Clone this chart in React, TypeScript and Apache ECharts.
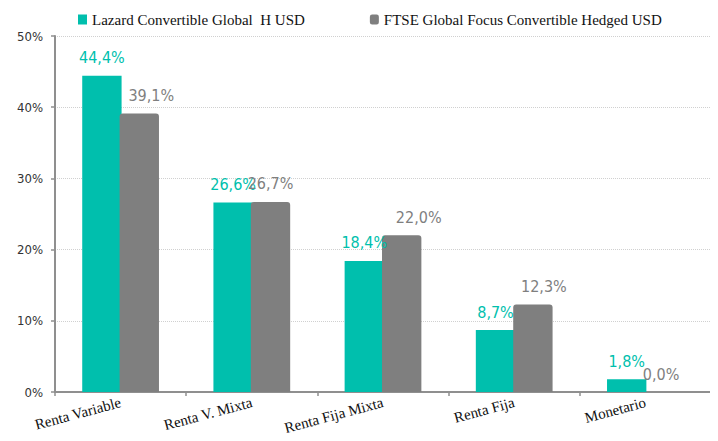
import React, { useEffect, useRef } from "react";
import * as echarts from "echarts";

const categories = ["Renta Variable", "Renta V. Mixta", "Renta Fija Mixta", "Renta Fija", "Monetario"];
const seriesNames = ["Lazard Convertible Global  H USD", "FTSE Global Focus Convertible Hedged USD"];
const lazardValues = [44.4, 26.6, 18.4, 8.7, 1.8];
const ftseValues = [39.1, 26.7, 22.0, 12.3, 0.0];
const yTicks = [0, 10, 20, 30, 40, 50];

const TEAL = "#00BFAD";
const GRAY = "#7F7F7F";
const grayLabelShift = [12, 0, 17, 11, -3];

const fmt = (v: number) => v.toFixed(1).replace(".", ",") + "%";

export default function App() {
  const ref = useRef<HTMLDivElement>(null);
  useEffect(() => {
    if (!ref.current) return;
    const chart = echarts.init(ref.current, null, { renderer: "svg" });
    const labelFont = "'DejaVu Sans Condensed', 'Liberation Sans', sans-serif";
    chart.setOption({
      animation: false,
      backgroundColor: "#ffffff",
      legend: {
        left: 73,
        top: 7,
        itemWidth: 9,
        itemHeight: 10,
        itemGap: 65,
        textStyle: { fontFamily: "'Liberation Serif', serif", fontSize: 15, color: "#111111" },
        data: [
          { name: seriesNames[0], icon: "rect" },
          { name: seriesNames[1], icon: "roundRect" },
        ],
      },
      grid: { left: 55, right: 7, top: 36, bottom: 49 },
      xAxis: {
        type: "category",
        data: categories,
        axisLine: { lineStyle: { color: "#8f8f8f", width: 2 } },
        axisTick: { show: true, length: 4, lineStyle: { color: "#8f8f8f", width: 1.5 } },
        axisLabel: {
          interval: 0,
          rotate: 15,
          margin: 10,
          fontFamily: "'Liberation Serif', serif",
          fontSize: 15,
          color: "#111111",
        },
      },
      yAxis: {
        type: "value",
        min: yTicks[0],
        max: yTicks[yTicks.length - 1],
        interval: 10,
        axisLine: { show: true, lineStyle: { color: "#8f8f8f", width: 2 } },
        axisTick: { show: true, length: 4, lineStyle: { color: "#8f8f8f", width: 1.5 } },
        axisLabel: {
          margin: 12,
          formatter: (v: number) => v + "%",
          fontFamily: labelFont,
          fontSize: 13,
          color: "#333333",
        },
        splitLine: { show: true, lineStyle: { color: "#d0d0d0", type: "dotted", width: 1 } },
      },
      series: [
        {
          name: seriesNames[0],
          type: "bar",
          data: lazardValues,
          barWidth: "30%",
          barGap: "-5%",
          itemStyle: { color: TEAL },
          label: {
            show: true,
            position: "top",
            distance: 10,
            formatter: (p: any) => fmt(p.value),
            fontFamily: labelFont,
            fontSize: 16,
            color: TEAL,
          },
        },
        {
          name: seriesNames[1],
          type: "bar",
          data: ftseValues.map((v, i) => ({
            value: v,
            label: { offset: [grayLabelShift[i], 0] },
          })),
          barWidth: "30%",
          barGap: "-5%",
          itemStyle: { color: GRAY, borderRadius: [3, 3, 0, 0] },
          label: {
            show: true,
            position: "top",
            distance: 10,
            formatter: (p: any) => fmt(p.value),
            fontFamily: labelFont,
            fontSize: 16,
            color: GRAY,
          },
        },
      ],
    });
    return () => chart.dispose();
  }, []);
  return <div ref={ref} style={{ width: 718, height: 441, margin: -8 }} />;
}
